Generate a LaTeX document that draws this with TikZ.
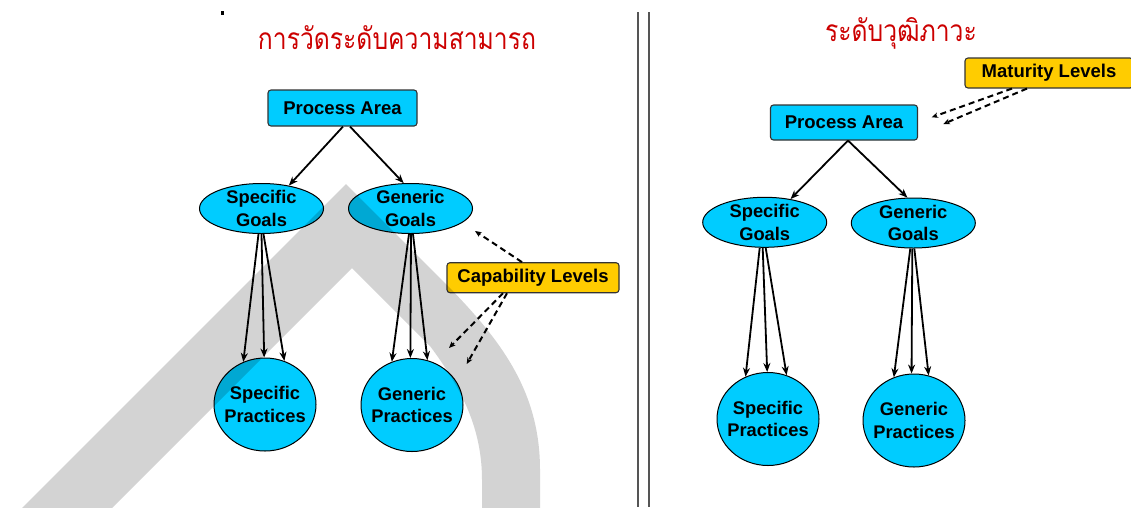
\documentclass[tikz,border=0pt]{standalone}
\usepackage{fontspec}
\setmainfont{Liberation Sans}
\newfontfamily\thaifont[Script=Thai]{Loma}
\usetikzlibrary{arrows.meta,shapes.geometric}

\definecolor{nodecyan}{RGB}{0,204,255}
\definecolor{lvlyellow}{RGB}{255,204,0}
\definecolor{titlered}{RGB}{204,0,0}
\definecolor{divgray}{RGB}{85,85,85}
\definecolor{markgray}{RGB}{211,211,211}

\tikzset{
  areabox/.style={draw=black!80, line width=1.1pt, fill=nodecyan, rounded corners=3pt,
    inner sep=0pt, font=\fontsize{18.5}{22}\selectfont\bfseries},
  lvlbox/.style={draw=black!80, line width=1.1pt, fill=lvlyellow, rounded corners=3pt,
    inner sep=0pt, minimum height=30pt, font=\fontsize{18.5}{22}\selectfont\bfseries},
  goal/.style={ellipse, draw=black, line width=1pt, fill=nodecyan, inner sep=-10pt,
    minimum width=124pt, minimum height=50pt, align=center,
    font=\fontsize{18.3}{22.5}\selectfont\bfseries},
  practice/.style={ellipse, draw=black, line width=1pt, fill=nodecyan, inner sep=-10pt,
    minimum width=102pt, minimum height=93pt, align=center,
    font=\fontsize{18.3}{22.5}\selectfont\bfseries},
  link/.style={-{Stealth[length=9pt,width=7pt]}, line width=1.8pt},
  dlink/.style={-{Stealth[length=6.5pt,width=5.5pt]}, line width=2pt, dash pattern=on 6pt off 4pt},
  headline/.style={anchor=base, text=titlered, xscale=0.95, yscale=1.15,
    font=\thaifont\fontsize{26}{30}\selectfont},
}

\begin{document}
\begin{tikzpicture}[x=1pt,y=-1pt]
\useasboundingbox (0,0) rectangle (1131,507);
\clip (0,0) rectangle (1131,507);

% small bullet mark and the two column dividers
\fill (220.5,11) rectangle (224,14.5);
\draw[divgray, line width=1.6pt] (637.7,12) -- (637.7,507);
\draw[divgray, line width=1.6pt] (648.7,12) -- (648.7,507);

% ---------- left column: capability ----------
\node[headline] (t1) at (397,49) {การวัดระดับความสามารถ};

\node[areabox, minimum width=149pt, minimum height=36pt] (pa1) at (342.5,108) {Process Area};
\node[goal] (sg1) at (261.5,208.5) {Specific\\Goals};
\node[goal] (gg1) at (410.5,208.5) {Generic\\Goals};
\node[practice] (sp1) at (265,404.5) {Specific\\Practices};
\node[practice] (gp1) at (412,405) {Generic\\Practices};
\node[lvlbox, minimum width=172pt] (cl) at (533,277.7) {Capability Levels};

\draw[link] ([xshift=0.5pt]pa1.south) -- (sg1.40);
\draw[link] ([xshift=7.5pt]pa1.south) -- (gg1.105);

\draw[link] ([xshift=-3pt]sg1.south) -- (sp1.117);
\draw[link] (sg1.south) -- (sp1.91);
\draw[link] ([xshift=2pt]sg1.south) -- (sp1.66);

\draw[link] ([xshift=-1.5pt]gg1.south) -- (gp1.115);
\draw[link] ([xshift=0.5pt]gg1.south) -- (gp1.92);
\draw[link] ([xshift=2.5pt]gg1.south) -- (gp1.71);

\coordinate (clA) at (475,231);
\coordinate (clB) at (449,348);
\coordinate (clC) at (466.7,364);
\draw[dlink] ([xshift=-11pt]cl.north) -- (clA);
\draw[dlink] ([xshift=-30pt]cl.south) -- (clB);
\draw[dlink] ([xshift=-26pt]cl.south) -- (clC);

% ---------- right column: maturity ----------
\node[headline] (t2) at (901,41) {ระดับวุฒิภาวะ};

\node[areabox, minimum width=147pt, minimum height=35pt] (pa2) at (844,122.5) {Process Area};
\node[goal] (sg2) at (764.7,222.3) {Specific\\Goals};
\node[goal] (gg2) at (913.3,223) {Generic\\Goals};
\node[practice] (sp2) at (768,419) {Specific\\Practices};
\node[practice] (gp2) at (914,420.5) {Generic\\Practices};
\node[lvlbox, minimum width=168pt] (ml) at (1049,73) {Maturity Levels};

\draw[link] ([xshift=4pt]pa2.south) -- (sg2.42);
\draw[link] ([xshift=4pt]pa2.south) -- (gg2.103);

\draw[link] ([xshift=-5pt]sg2.south) -- (sp2.118);
\draw[link] ([xshift=-2pt]sg2.south) -- (sp2.91);
\draw[link] ([xshift=1pt]sg2.south) -- (sp2.67);

\draw[link] ([xshift=-3pt]gg2.south) -- (gp2.115);
\draw[link] ([xshift=-1pt]gg2.south) -- (gp2.93);
\draw[link] ([xshift=1pt]gg2.south) -- (gp2.72);

\coordinate (mlA) at (931.7,117.3);
\coordinate (mlB) at (943.3,124);
\draw[dlink] ([xshift=-37pt]ml.south) -- (mlA);
\draw[dlink] ([xshift=-22pt]ml.south) -- (mlB);

% ---------- grey arch watermark laid over the left column ----------
\begin{scope}[blend mode=multiply]
\fill[markgray]
  (10,520) -- (346,184) -- (440,278)
  .. controls (500,338) and (540,390) .. (540,470) -- (540,520)
  -- (482,520) -- (482,480)
  .. controls (482,430) and (463,390) .. (430,346)
  -- (352,268) -- (100,520) -- cycle;
\end{scope}
\end{tikzpicture}
\end{document}
